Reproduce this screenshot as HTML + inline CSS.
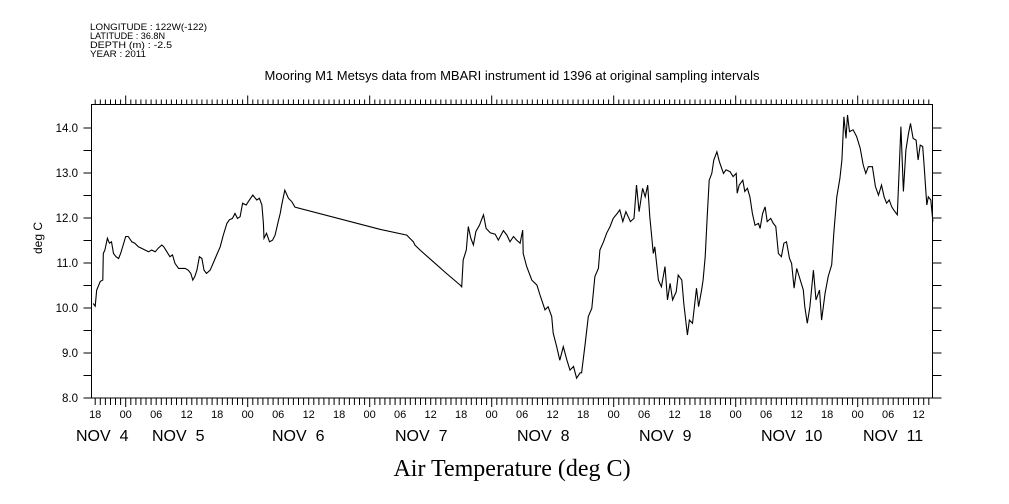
<!DOCTYPE html>
<html><head><meta charset="utf-8"><style>
html,body{margin:0;padding:0;background:#fff;}
svg{display:block;font-family:"Liberation Sans",sans-serif;}
</style></head><body>
<svg id="chart" width="1009" height="504" viewBox="0 0 1009 504" xmlns="http://www.w3.org/2000/svg">
<g font-size="9.6" fill="#000">
<text x="90" y="30" textLength="117" lengthAdjust="spacingAndGlyphs">LONGITUDE : 122W(-122)</text>
<text x="90" y="39" textLength="75" lengthAdjust="spacingAndGlyphs">LATITUDE : 36.8N</text>
<text x="90" y="48" textLength="82" lengthAdjust="spacingAndGlyphs">DEPTH (m) : -2.5</text>
<text x="90" y="57" textLength="56" lengthAdjust="spacingAndGlyphs">YEAR : 2011</text>
</g>
<text x="512" y="80" text-anchor="middle" font-size="13">Mooring M1 Metsys data from MBARI instrument id 1396 at original sampling intervals</text>
<text x="512" y="476" text-anchor="middle" font-size="24" font-family="Liberation Serif, serif">Air Temperature (deg C)</text>
<text transform="translate(42,238) rotate(-90)" text-anchor="middle" font-size="12">deg C</text>
<rect x="91.5" y="104.5" width="841" height="293.5" fill="none" stroke="#000" stroke-width="1"/>
<g id="ticks"></g>
<g id="labels"></g>
<path id="line" fill="none" stroke="#000" stroke-width="1.1"/>
</svg>
<script>
// hours since NOV 5 00:00
const hours = [-6.4,-6.0,-5.7,-5.0,-4.5,-4.4,-4.1,-3.6,-3.2,-2.8,-2.4,-1.9,-1.4,-1.0,-0.5,0,0.5,1.2,1.8,2.5,3.1,3.8,4.5,5.1,5.8,6.4,7.1,7.5,8.1,8.7,9.2,9.7,10.4,11.0,11.7,12.3,12.8,13.2,13.6,14.0,14.5,15.0,15.4,15.9,16.6,17.2,17.9,18.6,19.2,19.9,20.4,21.0,21.5,22.0,22.5,23.0,23.7,24.1,25.0,25.8,26.3,26.8,27.1,27.2,27.7,28.3,28.9,29.4,30.0,30.4,30.7,31.3,32.0,32.7,33.3,
50.0,55.3,55.9,56.6,56.9,57.9,60.5,63.1,65.8,66.1,66.4,67.0,67.4,67.9,68.4,68.9,69.6,70.0,70.4,70.9,71.7,72.7,73.3,74.3,75.0,75.6,76.3,76.9,77.6,78.1,78.2,78.9,79.9,80.9,81.5,82.5,83.1,83.8,84.1,84.8,85.4,86.1,86.8,87.4,88.1,88.7,89.4,89.7,90.4,91.0,91.7,92.3,93.0,93.3,94.0,94.6,95.3,95.9,96.7,97.2,97.8,98.4,99.3,100.0,100.5,101.0,101.7,102.2,102.7,103.1,103.8,104.1,104.8,105.4,106.1,106.6,107.1,107.6,108.3,108.7,109.4,109.8,110.5,110.9,111.5,112.3,
112.7,113.3,113.6,114.0,114.4,114.8,115.3,115.7,116.3,116.8,117.6,118.1,118.9,119.5,120.1,120.3,120.7,121.4,121.8,122.3,122.8,123.3,123.8,124.5,124.8,125.3,125.8,126.2,126.9,127.4,127.9,128.4,129.0,129.5,130.0,130.6,131.0,131.5,132.0,132.5,133.3,133.6,134.1,134.6,135.3,135.8,136.5,136.9,137.6,138.2,138.9,139.3,139.9,140.5,140.9,141.3,141.7,142.0,142.4,143.1,143.8,144.5,145.1,145.6,146.1,146.9,147.5,148.1,148.7,149.2,149.7,150.2,150.7,151.1,151.8,152.2,152.5,153.0,153.5,154.0,154.4,154.9,155.5,155.9,156.3,156.8,157.1,157.6,157.9,158.4,158.8];
const temps = [10.10,10.04,10.40,10.59,10.62,11.21,11.29,11.55,11.44,11.47,11.21,11.14,11.10,11.21,11.40,11.59,11.59,11.47,11.44,11.36,11.33,11.29,11.25,11.29,11.25,11.33,11.40,11.36,11.25,11.14,11.18,10.99,10.88,10.88,10.88,10.84,10.77,10.62,10.70,10.84,11.14,11.10,10.84,10.77,10.84,10.99,11.18,11.36,11.62,11.88,11.96,11.99,12.10,11.99,12.03,12.33,12.29,12.36,12.51,12.40,12.44,12.29,11.88,11.55,11.66,11.47,11.51,11.62,11.92,12.10,12.29,12.62,12.44,12.36,12.24,
11.75,11.62,11.55,11.47,11.40,11.29,11.03,10.77,10.51,10.47,11.07,11.29,11.81,11.55,11.40,11.70,11.84,11.96,12.07,11.77,11.67,11.64,11.51,11.72,11.62,11.47,11.59,11.51,11.44,11.73,11.21,10.92,10.62,10.51,10.29,9.96,10.03,9.81,9.44,9.14,8.84,9.14,8.84,8.62,8.70,8.44,8.56,8.56,9.21,9.81,9.99,10.70,10.88,11.29,11.47,11.66,11.81,11.99,12.10,12.18,11.92,12.14,11.92,11.99,12.73,12.14,12.66,12.47,12.73,12.03,11.21,11.36,10.62,10.47,10.92,10.18,10.55,10.18,10.36,10.73,10.62,10.10,9.40,9.73,9.66,10.44,
10.03,10.40,10.62,11.14,12.03,12.84,12.99,13.29,13.47,13.25,12.99,13.07,13.03,12.92,12.99,12.55,12.73,12.84,12.59,12.66,12.47,12.10,11.84,11.88,11.77,12.10,12.25,11.92,11.99,11.88,11.81,11.21,11.14,11.44,11.47,11.10,10.99,10.44,10.88,10.70,10.40,10.03,9.66,10.03,10.84,10.18,10.40,9.73,10.33,10.70,10.96,11.66,12.47,12.88,13.29,14.25,13.77,14.29,13.92,13.96,13.81,13.55,13.18,12.99,13.14,13.14,12.70,12.51,12.73,12.47,12.33,12.40,12.25,12.18,12.07,13.14,14.03,12.59,13.51,13.88,14.10,13.77,13.73,13.29,13.62,13.59,13.14,12.29,12.47,12.40,11.92];
const yTicks = [8.0,9.0,10.0,11.0,12.0,13.0,14.0];
const hourLabels = ["18","00","06","12"];
const dayLabels = ["NOV  4","NOV  5","NOV  6","NOV  7","NOV  8","NOV  9","NOV  10","NOV  11"];

const NS="http://www.w3.org/2000/svg";
const X0=125.7, PXH=5.083, L=91.5, R=932.5, T=104.5, B=398;
const xs = h => X0 + h*PXH;
const ys = v => 398 - (v-8)*45;
function mk(tag, attrs, parent){const e=document.createElementNS(NS,tag);for(const k in attrs)e.setAttribute(k,attrs[k]);parent.appendChild(e);return e;}
const tg=document.getElementById('ticks'), lg=document.getElementById('labels');
let d='';
for(let h=-6;h<=158;h++){
  const x=xs(h).toFixed(1); const major=((h%24)+24)%24===0;
  d+=`M${x},${B}V${B+(major?9:7)}M${x},${T}V${T-(major?9:5)}`;
}
for(let v=8;v<=14.01;v+=0.5){const y=ys(v).toFixed(1);d+=`M${L},${y}H${L-8}M${R},${y}H${R+9}`;}
const tp=mk('path',{d:d,stroke:'#000','stroke-width':1,fill:'none'},tg);


yTicks.forEach(v=>{
  const t=mk('text',{x:78,y:ys(v)+4,'text-anchor':'end','font-size':11.5},lg);
  
  
  t.textContent=v.toFixed(1);
});
for(let h=-6,i=0;h<=156;h+=6,i++){
  const t=mk('text',{x:xs(h),y:418,'text-anchor':'middle','font-size':11},lg);
  
  
  t.textContent=hourLabels[i%4];
}
const starts=[76,152,272,395,517,639,761,863];
dayLabels.forEach((s,i)=>{
  const t=mk('text',{x:starts[i],y:441,'font-size':16},lg);
  
  
  t.style.whiteSpace='pre';
  t.textContent=s;
});
document.getElementById('line').setAttribute('d', hours.map((h,i)=>(i?'L':'M')+xs(h).toFixed(1)+','+ys(temps[i]).toFixed(1)).join(''));
</script>
</body></html>
